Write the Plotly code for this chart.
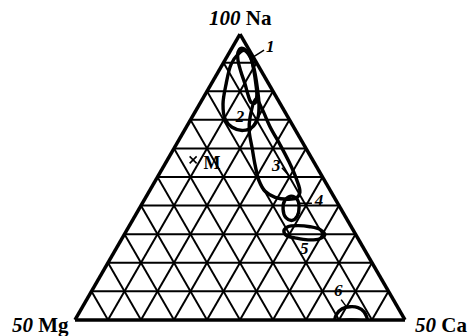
import plotly.graph_objects as go

# Field outlines, given as Na and Ca percentages; Mg makes up the rest to 100.
loop1_na = [95.0, 94.0, 91.5, 87.2, 82.6, 78.4, 75.9, 76.2, 78.7, 82.6, 86.9, 90.8, 93.6]
loop1_ca = [2.8, 5.1, 7.6, 10.6, 13.5, 15.9, 16.6, 15.2, 13.1, 10.2, 6.8, 4.0, 2.6]

loop2_na = [92.9, 94.3, 92.2, 87.9, 81.6, 75.5, 70.9, 67.7, 66.3, 67.4, 70.2, 75.5, 82.6, 89.4]
loop2_ca = [2.9, 4.1, 6.9, 10.3, 14.4, 18.0, 20.0, 20.1, 17.8, 13.9, 10.4, 7.1, 4.5, 2.6]

loop3_na = [77.3, 73.8, 67.7, 61.3, 55.3, 49.6, 44.7, 42.6, 42.2, 42.9, 45.0, 48.6, 54.3, 60.3, 66.0, 70.9]
loop3_ca = [16.2, 19.8, 25.2, 31.5, 37.2, 42.2, 45.8, 45.7, 43.2, 39.2, 35.1, 31.5, 27.4, 23.5, 19.8, 17.6]

loop4_na = [43.3, 42.2, 39.4, 36.2, 34.8, 35.8, 38.7, 41.8]
loop4_ca = [43.8, 46.2, 48.2, 49.2, 48.4, 46.0, 43.7, 42.7]

loop5_na = [31.2, 32.6, 33.0, 32.6, 31.6, 29.8, 28.4, 28.0, 28.7, 29.4]
loop5_ca = [47.7, 48.2, 51.1, 54.9, 58.5, 60.8, 60.0, 56.6, 52.3, 49.5]

loop6_na = [0.0, 2.1, 3.9, 4.6, 4.3, 2.8, 0.0, 0.0]
loop6_ca = [78.8, 78.3, 79.0, 81.0, 83.6, 86.2, 88.5, 83.6]

# Point M and its caption
m_na = [56.0]
m_ca = [7.8]
m_label_na = [54.3]
m_label_ca = [14.4]

# Field numbers and their leader lines (Na, Ca)
field_labels = ["2", "3", "4", "5", "6"]
field_label_na = [70.6, 53.5, 41.5, 24.5, 9.9]
field_label_ca = [14.7, 34.2, 53.2, 57.2, 74.8]

leader3_na = [53.2, 50.0]
leader3_ca = [36.1, 40.2]
leader4_na = [40.8, 40.8]
leader4_ca = [47.5, 51.4]
leader6_na = [7.1, 4.3]
leader6_ca = [77.1, 80.3]

# Tip of the leader for field 1 (on the outline of field 1)
leader1_tip_na = 91.5
leader1_tip_ca = 7.6

SERIF = "Liberation Serif"
INK = "black"


def mg(na, ca):
    return [100 - a - c for a, c in zip(na, ca)]


def closed(vals):
    return list(vals) + [vals[0]]


fig = go.Figure()

loops = [
    (loop1_na, loop1_ca),
    (loop2_na, loop2_ca),
    (loop3_na, loop3_ca),
    (loop4_na, loop4_ca),
    (loop5_na, loop5_ca),
]
for na, ca in loops:
    fig.add_trace(go.Scatterternary(
        a=closed(na), b=closed(mg(na, ca)), c=closed(ca),
        mode="lines",
        line=dict(color=INK, width=3.4, shape="spline", smoothing=1.0),
        hoverinfo="skip",
    ))

# Field 6 sits on the Mg-Ca side
fig.add_trace(go.Scatterternary(
    a=closed(loop6_na), b=closed(mg(loop6_na, loop6_ca)), c=closed(loop6_ca),
    mode="lines",
    line=dict(color=INK, width=3.4, shape="spline", smoothing=0.8),
    hoverinfo="skip",
))

for na, ca in [(leader3_na, leader3_ca), (leader4_na, leader4_ca), (leader6_na, leader6_ca)]:
    fig.add_trace(go.Scatterternary(
        a=na, b=mg(na, ca), c=ca,
        mode="lines",
        line=dict(color=INK, width=1.5),
        hoverinfo="skip",
    ))

fig.add_trace(go.Scatterternary(
    a=field_label_na, b=mg(field_label_na, field_label_ca), c=field_label_ca,
    mode="text",
    text=[f"<b><i>{t}</i></b>" for t in field_labels],
    textposition="middle center",
    textfont=dict(family=SERIF, size=17, color=INK),
    cliponaxis=False,
    hoverinfo="skip",
))

fig.add_trace(go.Scatterternary(
    a=m_na, b=mg(m_na, m_ca), c=m_ca,
    mode="markers",
    marker=dict(symbol="x-thin", size=7, color=INK, line=dict(color=INK, width=1.6)),
    hoverinfo="skip",
))

fig.add_trace(go.Scatterternary(
    a=m_label_na, b=mg(m_label_na, m_label_ca), c=m_label_ca,
    mode="text",
    text=["<b>M</b>"],
    textposition="middle center",
    textfont=dict(family=SERIF, size=18, color=INK),
    cliponaxis=False,
    hoverinfo="skip",
))

axis_style = dict(
    min=0,
    showticklabels=False,
    ticks="",
    tick0=0,
    dtick=10,
    showgrid=True,
    gridcolor=INK,
    gridwidth=2,
    showline=True,
    linecolor=INK,
    linewidth=3.5,
    title=dict(text=""),
)

# Plot-area geometry (pixels) used to place the corner captions
W, H = 469, 336
ML, MR, MT, MB = 75, 64, 27, 9
PW, PH = W - ML - MR, H - MT - MB
TRI_W = PW
TRI_H = TRI_W * 3 ** 0.5 / 2
TRI_Y0 = MT + (PH - TRI_H) / 2


def ternary_to_paper(na, ca):
    px = ML + TRI_W * (ca / 100 + na / 200)
    py = TRI_Y0 + TRI_H * (1 - na / 100)
    return (px - ML) / PW, 1 - (py - MT) / PH


def px_to_paper(px, py):
    return (px - ML) / PW, 1 - (py - MT) / PH


tip_x, tip_y = ternary_to_paper(leader1_tip_na, leader1_tip_ca)

title_font = dict(family=SERIF, size=21, color=INK)
na_x, na_y = px_to_paper(240, 18)
mg_x, mg_y = px_to_paper(71, 325)
ca_x, ca_y = px_to_paper(413, 325)

annotations = [
    dict(text="<b><i>100</i> Na</b>", x=na_x, y=na_y, xref="paper", yref="paper",
         xanchor="center", yanchor="middle", showarrow=False, font=title_font),
    dict(text="<b><i>50</i> Mg</b>", x=mg_x, y=mg_y, xref="paper", yref="paper",
         xanchor="right", yanchor="middle", showarrow=False, font=title_font),
    dict(text="<b><i>50</i> Ca</b>", x=ca_x, y=ca_y, xref="paper", yref="paper",
         xanchor="left", yanchor="middle", showarrow=False, font=title_font),
    dict(text="<b><i>1</i></b>", x=tip_x, y=tip_y, xref="paper", yref="paper",
         showarrow=True, arrowhead=0, arrowwidth=1.5, arrowcolor=INK,
         ax=19, ay=-12, standoff=0, startstandoff=0,
         font=dict(family=SERIF, size=17, color=INK)),
]

fig.update_layout(
    width=W,
    height=H,
    margin=dict(l=ML, r=MR, t=MT, b=MB),
    paper_bgcolor="white",
    plot_bgcolor="white",
    showlegend=False,
    ternary=dict(
        sum=100,
        bgcolor="white",
        aaxis=axis_style,
        baxis=axis_style,
        caxis=axis_style,
    ),
    annotations=annotations,
)

fig.write_html("out.html")
